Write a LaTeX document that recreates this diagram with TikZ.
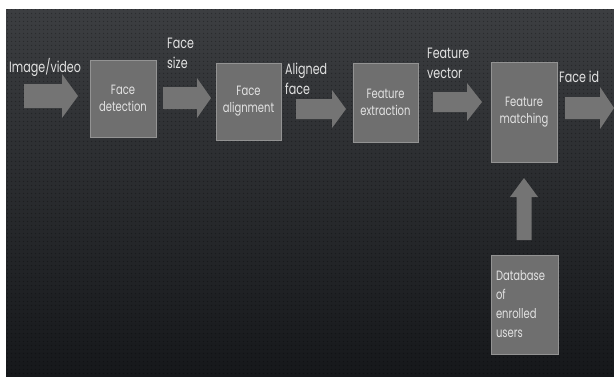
\documentclass[tikz,border=0pt]{standalone}
\usepackage{fontspec}
\setmainfont[FakeStretch=0.74]{Poppins}
\usetikzlibrary{patterns.meta}
\definecolor{bgtop}{RGB}{60,62,65}
\definecolor{bgbot}{RGB}{22,24,27}
\definecolor{boxgray}{RGB}{111,111,111}
\definecolor{arrgray}{RGB}{116,116,116}
\definecolor{txt}{RGB}{226,226,226}
\tikzset{
  stagebox/.style={fill=boxgray, draw=white!25!boxgray, line width=0.6pt, inner sep=0pt,
    text=txt, align=center, font=\fontsize{13.5}{17}\selectfont},
  blockarr/.style={fill=arrgray},
  lbl/.style={text=txt, anchor=west, align=left, inner sep=0pt, font=\fontsize{15}{20}\selectfont}
}
\begin{document}
\begin{tikzpicture}[x=1pt,y=-1pt]
\useasboundingbox (0,0) rectangle (614,376);
\fill[white] (0,0) rectangle (614,376);
\shade[top color=bgtop, bottom color=bgbot] (6,9) rectangle (614,376);
\fill[pattern={Dots[radius=0.8pt, distance=4pt]}, pattern color=black, fill opacity=0.3] (6,9) rectangle (614,376);

% stage boxes
\node[stagebox, minimum width=66pt, minimum height=77pt] (fd) at (123,98.5) {Face\\detection};
\node[stagebox, minimum width=65pt, minimum height=77pt] (fa) at (248.5,101.5) {Face\\alignment};
\node[stagebox, minimum width=65pt, minimum height=79pt] (fe) at (385.5,102.5) {Feature\\extraction};
\node[stagebox, minimum width=66pt, minimum height=100pt] (fm) at (524,112) {Feature\\matching};
\node[stagebox, minimum width=66pt, minimum height=99pt, align=left, text width=58pt, inner xsep=4.5pt,
  font=\fontsize{13.5}{19}\selectfont] (db) at (525,304.5) {Database\\of\\enrolled\\users};

% block arrows
\fill[blockarr] (24,84) -- (62,84) -- (62,74) -- (78,96) -- (62,118) -- (62,108) -- (24,108) -- cycle;
\fill[blockarr] (163,87) -- (197,87) -- (197,78) -- (211,98) -- (197,118) -- (197,109) -- (163,109) -- cycle;
\fill[blockarr] (296,99) -- (332,99) -- (332,90) -- (346,109) -- (332,128) -- (332,119) -- (296,119) -- cycle;
\fill[blockarr] (433,92) -- (467,92) -- (467,83) -- (482,102) -- (467,121) -- (467,112) -- (433,112) -- cycle;
\fill[blockarr] (565,97) -- (600,97) -- (600,87) -- (614,108) -- (600,129) -- (600,119) -- (565,119) -- cycle;
\fill[blockarr] (516.5,240) -- (516.5,197) -- (510,197) -- (524,178) -- (538,197) -- (531.5,197) -- (531.5,240) -- cycle;

% labels
\node[lbl] (l1) at (9,67) {Image/video};
\node[lbl] (l2) at (167,53) {Face\\size};
\node[lbl] (l3) at (285,79) {Aligned\\face};
\node[lbl] (l4) at (427,63.5) {Feature\\vector};
\node[lbl] (l5) at (559,77) {Face id};
\end{tikzpicture}
\end{document}
